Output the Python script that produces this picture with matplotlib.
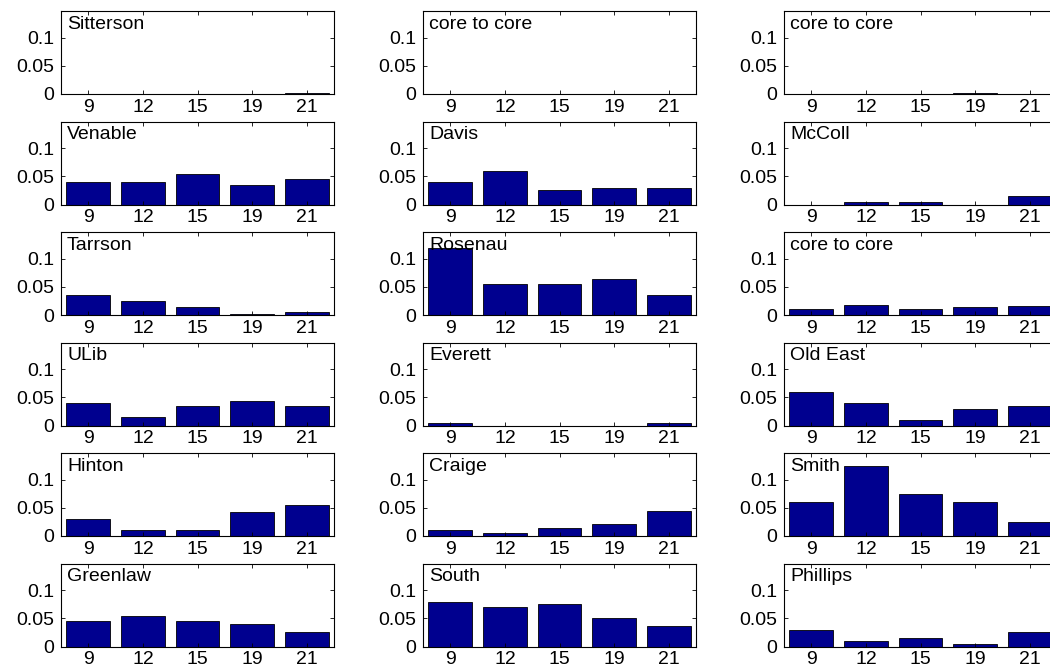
import matplotlib.pyplot as plt
import numpy as np

plt.rcParams['font.family'] = ['Liberation Sans', 'DejaVu Sans']
plt.rcParams['font.size'] = 14

hours = ['9', '12', '15', '19', '21']

# building names, laid out row by row (3 columns)
names = [
    'Sitterson', 'core to core', 'core to core',
    'Venable', 'Davis', 'McColl',
    'Tarrson', 'Rosenau', 'core to core',
    'ULib', 'Everett', 'Old East',
    'Hinton', 'Craige', 'Smith',
    'Greenlaw', 'South', 'Phillips',
]

sitterson = [0.0, 0.0, 0.0005, 0.0, 0.001]
core_a = [0.0, 0.0, 0.0005, 0.0, 0.0]
core_b = [0.0, 0.0, 0.0, 0.001, 0.0]
venable = [0.04, 0.04, 0.055, 0.035, 0.045]
davis = [0.04, 0.06, 0.025, 0.03, 0.03]
mccoll = [0.0, 0.004, 0.004, 0.0, 0.015]
tarrson = [0.035, 0.025, 0.015, 0.001, 0.005]
rosenau = [0.12, 0.055, 0.055, 0.065, 0.035]
core_c = [0.01, 0.018, 0.01, 0.015, 0.016]
ulib = [0.04, 0.015, 0.035, 0.043, 0.035]
everett = [0.004, 0.0, 0.0, 0.0, 0.004]
old_east = [0.06, 0.04, 0.01, 0.03, 0.035]
hinton = [0.03, 0.01, 0.01, 0.043, 0.055]
craige = [0.01, 0.005, 0.015, 0.022, 0.045]
smith = [0.06, 0.125, 0.075, 0.06, 0.025]
greenlaw = [0.045, 0.055, 0.045, 0.04, 0.025]
south = [0.08, 0.07, 0.075, 0.05, 0.036]
phillips = [0.03, 0.01, 0.015, 0.005, 0.025]

series = [
    sitterson, core_a, core_b,
    venable, davis, mccoll,
    tarrson, rosenau, core_c,
    ulib, everett, old_east,
    hinton, craige, smith,
    greenlaw, south, phillips,
]

W, H = 1050, 670
fig = plt.figure(figsize=(W / 100, H / 100), dpi=100)

col_left = [61, 423, 784]
row_top = [11, 121.5, 232, 342.5, 453, 563.5]
ax_w, ax_h = 273, 83

x = np.arange(1, len(hours) + 1)
for i, (name, vals) in enumerate(zip(names, series)):
    r, c = divmod(i, 3)
    left = col_left[c] / W
    bottom = 1 - (row_top[r] + ax_h) / H
    ax = fig.add_axes([left, bottom, ax_w / W, ax_h / H])
    ax.bar(x, vals, width=0.8, color='#00008f', edgecolor='black', linewidth=0.6)
    ax.set_xlim(0.5, 5.5)
    ax.set_ylim(0, 0.148)
    ax.set_xticks(x)
    ax.set_xticklabels(hours)
    ax.set_yticks([0, 0.05, 0.1])
    ax.set_yticklabels(['0', '0.05', '0.1'])
    ax.tick_params(direction='in', top=True, right=True, length=3, width=0.6)
    ax.tick_params(axis='x', pad=3.5)
    ax.tick_params(axis='y', pad=5)
    for s in ax.spines.values():
        s.set_linewidth(0.8)
    ax.text(0.022, 0.94, name, transform=ax.transAxes, ha='left', va='top')

fig.savefig('out.png', dpi=100)
